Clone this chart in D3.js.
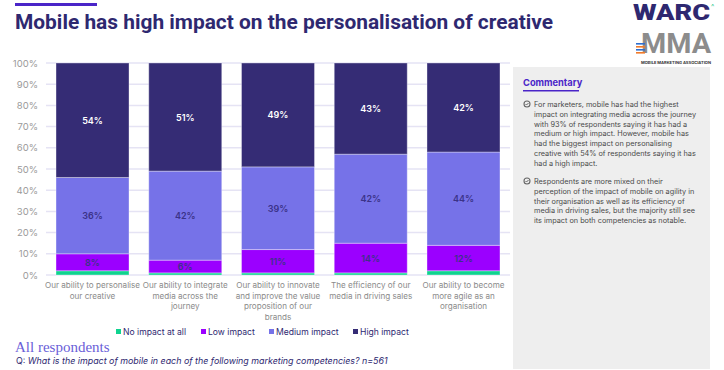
<!DOCTYPE html>
<html>
<head>
<meta charset="utf-8">
<script src="https://d3js.org/d3.v7.min.js"></script>
<style>
    body { margin: 0; background: #fff; }
    text { font-family: "Inter", "Roboto", sans-serif; }
</style>
</head>
<body>
<script>
//chart data
var categories = [
    ["Our ability to personalise", "our creative"],
    ["Our ability to integrate", "media across the", "journey"],
    ["Our ability to innovate", "and improve the value", "proposition of our", "brands"],
    ["The efficiency of our", "media in driving sales"],
    ["Our ability to become", "more agile as an", "organisation"]
];
var seriesNames = ["No impact at all", "Low impact", "Medium impact", "High impact"];
var noImpact = [2, 1, 1, 1, 2];
var lowImpact = [8, 6, 11, 14, 12];
var mediumImpact = [36, 42, 39, 42, 44];
var highImpact = [54, 51, 49, 43, 42];
var yTicks = [0, 10, 20, 30, 40, 50, 60, 70, 80, 90, 100];

var bullet1 = [
    "For marketers, mobile has had the highest",
    "impact on integrating media across the journey",
    "with 93% of respondents saying it has had a",
    "medium or high impact. However, mobile has",
    "had the biggest impact on personalising",
    "creative with 54% of respondents saying it has",
    "had a high impact."
];
var bullet2 = [
    "Respondents are more mixed on their",
    "perception of the impact of mobile on agility in",
    "their organisation as well as its efficiency of",
    "media in driving sales, but the majority still see",
    "its impact on both competencies as notable."
];

window.onload = function(){

    var w = 724,
        h = 370;

    var colors = ["#0fd38f", "#9b00ff", "#7672e8", "#352c75"];

    var svg = d3.select("body")
        .append("svg")
        .attr("width", w)
        .attr("height", h);

    //accent bar + title
    svg.append("rect")
        .attr("x", 15)
        .attr("y", 3)
        .attr("width", 82)
        .attr("height", 3)
        .style("fill", "#4a25c8");

    svg.append("text")
        .attr("x", 15)
        .attr("y", 29)
        .attr("textLength", 538)
        .attr("lengthAdjust", "spacingAndGlyphs")
        .style("font-family", "Roboto, sans-serif")
        .style("font-weight", "bold")
        .style("font-size", "21px")
        .style("fill", "#2e2870")
        .text("Mobile has high impact on the personalisation of creative");

    //logos (as text)
    svg.append("text")
        .attr("x", 633)
        .attr("y", 20)
        .attr("textLength", 77)
        .attr("lengthAdjust", "spacingAndGlyphs")
        .style("font-family", "Roboto, sans-serif")
        .style("font-weight", "900")
        .style("font-size", "22px")
        .style("fill", "#2e2870")
        .text("WARC");
    svg.append("text")
        .attr("x", 711)
        .attr("y", 9)
        .style("font-size", "7px")
        .style("fill", "#30c98a")
        .text("^");
    svg.append("text")
        .attr("x", 641)
        .attr("y", 53)
        .attr("textLength", 70)
        .attr("lengthAdjust", "spacingAndGlyphs")
        .style("font-family", "Roboto, sans-serif")
        .style("font-weight", "bold")
        .style("font-size", "28px")
        .style("fill", "#8c8c8c")
        .text("MMA");
    [["#2f6fd0", 43], ["#f07a2a", 46], ["#2f6fd0", 49], ["#f07a2a", 52]].forEach(function(s){
        svg.append("rect")
            .attr("x", 636)
            .attr("y", s[1])
            .attr("width", 9)
            .attr("height", 1.6)
            .style("fill", s[0]);
    });
    svg.append("text")
        .attr("x", 641)
        .attr("y", 63.5)
        .attr("textLength", 70)
        .attr("lengthAdjust", "spacingAndGlyphs")
        .style("font-size", "3.5px")
        .style("font-weight", "bold")
        .style("fill", "#333")
        .text("MOBILE MARKETING ASSOCIATION");

    //scales
    var x = d3.scaleBand()
        .domain(d3.range(categories.length))
        .range([46, 510])
        .paddingInner(0.213)
        .paddingOuter(0.108);

    var y = d3.scaleLinear()
        .domain([0, 100])
        .range([275, 63]);

    //gridlines
    svg.selectAll(".grid")
        .data(yTicks)
        .enter()
        .append("line")
        .attr("class", "grid")
        .attr("x1", 46)
        .attr("x2", 510)
        .attr("y1", function(d){ return y(d); })
        .attr("y2", function(d){ return y(d); })
        .style("stroke", "#e5e3f4")
        .style("stroke-width", 1.5);

    //y axis
    var yAxis = d3.axisLeft(y)
        .tickValues(yTicks)
        .tickSize(0)
        .tickPadding(0)
        .tickFormat(function(d){ return d + "%"; });

    var axis = svg.append("g")
        .attr("transform", "translate(38,0)")
        .call(yAxis);
    axis.select(".domain").remove();
    axis.selectAll("text")
        .style("font-family", "Inter, sans-serif")
        .style("font-size", "9.5px")
        .style("fill", "#9a9a9a");

    //stack the series
    var rows = categories.map(function(c, i){
        return { i: i, s0: noImpact[i], s1: lowImpact[i], s2: mediumImpact[i], s3: highImpact[i] };
    });
    var stack = d3.stack().keys(["s0", "s1", "s2", "s3"]);
    var layers = stack(rows);

    var groups = svg.selectAll(".layer")
        .data(layers)
        .enter()
        .append("g")
        .attr("class", "layer")
        .style("fill", function(d, i){ return colors[i]; });

    groups.selectAll("rect")
        .data(function(d){ return d; })
        .enter()
        .append("rect")
        .attr("x", function(d){ return x(d.data.i); })
        .attr("width", x.bandwidth())
        .attr("y", function(d){ return y(d[1]); })
        .attr("height", function(d){ return y(d[0]) - y(d[1]); })
        .style("stroke", "rgba(255,255,255,0.35)")
        .style("stroke-width", 1);

    //value labels (skip the no impact series)
    groups.filter(function(d, i){ return i > 0; })
        .selectAll(".val")
        .data(function(d){ return d; })
        .enter()
        .append("text")
        .attr("class", "val")
        .attr("x", function(d){ return x(d.data.i) + x.bandwidth() / 2; })
        .attr("y", function(d){ return (y(d[0]) + y(d[1])) / 2 + 3.5; })
        .attr("text-anchor", "middle")
        .style("font-size", "9px")
        .style("font-weight", "600")
        .style("fill", function(d){
            return d[1] === 100 ? "#ffffff" : "#3b3288";
        })
        .text(function(d){ return Math.round(d[1] - d[0]) + "%"; });

    //category labels
    var catLabels = svg.selectAll(".cat")
        .data(categories)
        .enter()
        .append("text")
        .attr("class", "cat")
        .attr("text-anchor", "middle")
        .style("font-size", "8.1px")
        .style("fill", "#8a8a8a");

    catLabels.selectAll("tspan")
        .data(function(d, i){
            return d.map(function(line){ return { line: line, i: i }; });
        })
        .enter()
        .append("tspan")
        .attr("x", function(d){ return x(d.i) + x.bandwidth() / 2; })
        .attr("y", function(d, j){ return 288 + j * 10.6; })
        .text(function(d){ return d.line; });

    //legend
    var legendX = [116, 201, 269, 353];
    var legend = svg.selectAll(".legend")
        .data(seriesNames)
        .enter()
        .append("g")
        .attr("class", "legend")
        .attr("transform", function(d, i){ return "translate(" + legendX[i] + ",329)"; });
    legend.append("rect")
        .attr("width", 5)
        .attr("height", 5)
        .style("fill", function(d, i){ return colors[i]; });
    legend.append("text")
        .attr("x", 7)
        .attr("y", 5.5)
        .style("font-size", "8.6px")
        .style("fill", "#2e2870")
        .text(function(d){ return d; });

    //footer
    svg.append("text")
        .attr("x", 15)
        .attr("y", 352)
        .style("font-family", "'Liberation Serif', 'DejaVu Serif', serif")
        .style("font-size", "15px")
        .style("fill", "#6a5ed8")
        .text("All respondents");

    var q = svg.append("text")
        .attr("x", 16)
        .attr("y", 364)
        .style("font-size", "8.9px")
        .style("fill", "#2e2870");
    q.append("tspan").text("Q: ");
    q.append("tspan")
        .style("font-style", "italic")
        .text("What is the impact of mobile in each of the following marketing competencies? n=561");

    //commentary panel
    svg.append("rect")
        .attr("x", 513)
        .attr("y", 67)
        .attr("width", 197)
        .attr("height", 302)
        .style("fill", "#eeeeee");

    svg.append("text")
        .attr("x", 523)
        .attr("y", 86)
        .style("font-size", "9.3px")
        .style("font-weight", "bold")
        .style("fill", "#4a25c8")
        .text("Commentary");
    svg.append("rect")
        .attr("x", 523)
        .attr("y", 90)
        .attr("width", 56)
        .attr("height", 1.5)
        .style("fill", "#4a25c8");

    function bullet(lines, y0){
        var g = svg.append("g");
        g.append("circle")
            .attr("cx", 527)
            .attr("cy", y0 - 3)
            .attr("r", 3)
            .style("fill", "none")
            .style("stroke", "#666")
            .style("stroke-width", 1.1);
        g.append("path")
            .attr("d", "M525.5," + (y0 - 3) + " l1,1 l2,-2")
            .style("fill", "none")
            .style("stroke", "#666")
            .style("stroke-width", 1);
        g.selectAll("text")
            .data(lines)
            .enter()
            .append("text")
            .attr("x", 534)
            .attr("y", function(d, i){ return y0 + i * 9.8; })
            .style("font-size", "7.3px")
            .style("fill", "#4a4a4a")
            .text(function(d){ return d; });
    }
    bullet(bullet1, 107);
    bullet(bullet2, 184);
};
</script>
</body>
</html>
